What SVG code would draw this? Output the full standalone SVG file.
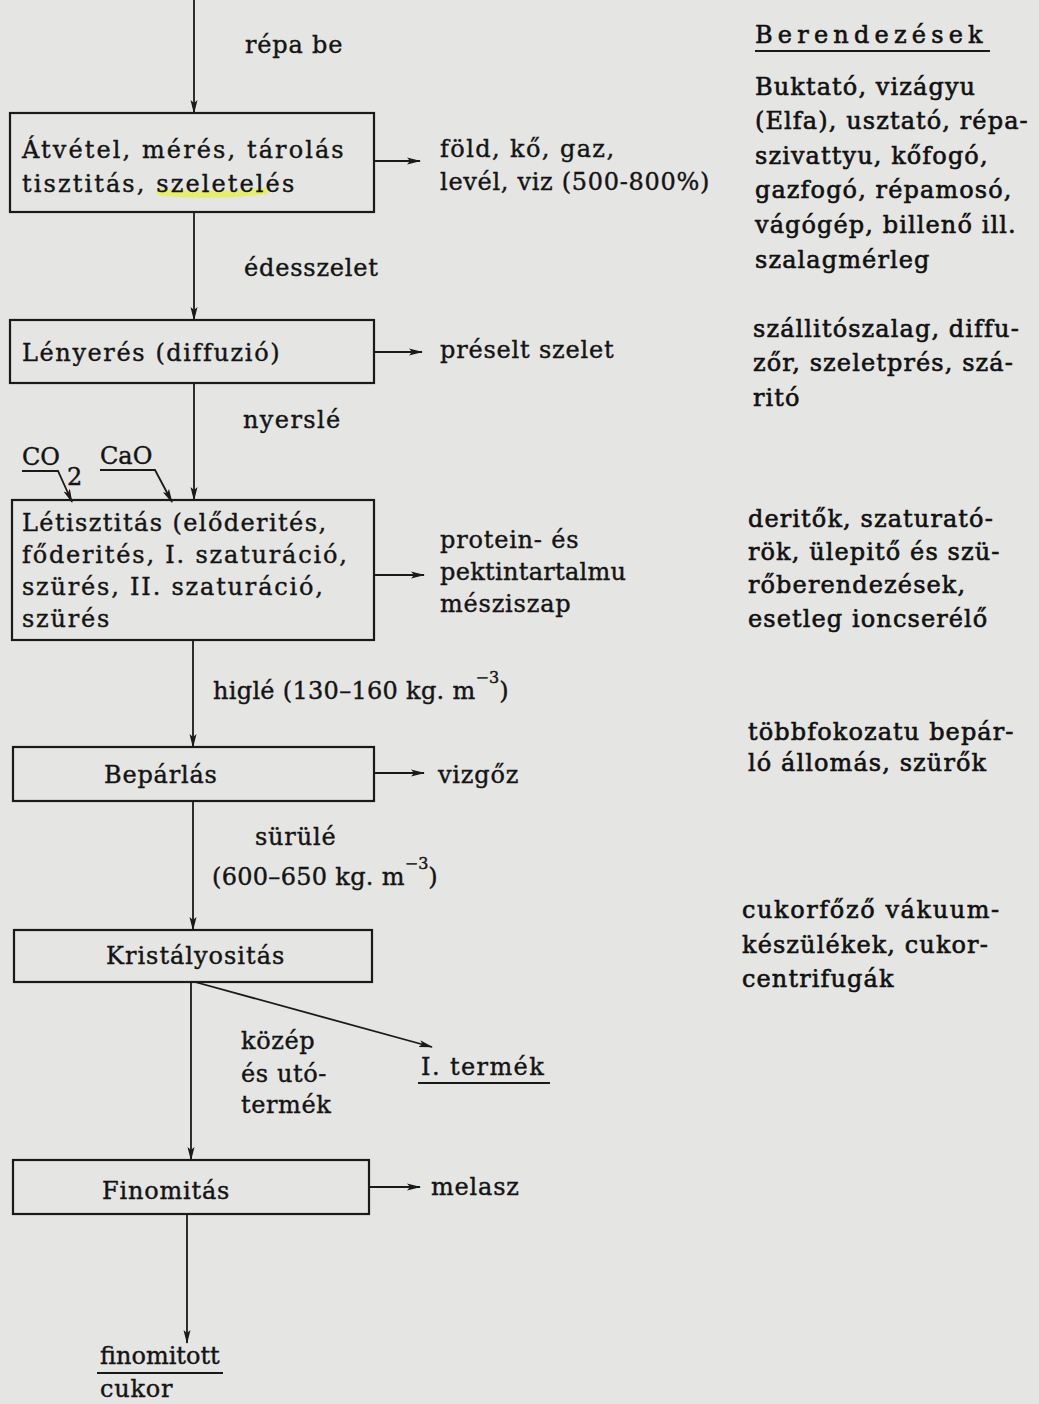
<svg xmlns="http://www.w3.org/2000/svg" width="1039" height="1404" viewBox="0 0 1039 1404">
<style>
.t { font-family: "DejaVu Serif", "Liberation Serif", serif; font-size: 24px; fill: #141414; stroke: #141414; stroke-width: 0.4px; letter-spacing: 1.4px; }
.r { font-family: "DejaVu Serif", "Liberation Serif", serif; font-size: 24px; fill: #111; stroke: #111; stroke-width: 0.6px; letter-spacing: 1.1px; }
.sup { font-size: 16px; letter-spacing: 0; }
.box { fill: none; stroke: #1a1a1a; stroke-width: 2.2; }
.ln { fill: none; stroke: #1a1a1a; stroke-width: 1.8; }
</style>
<defs>
<marker id="ah" markerWidth="14" markerHeight="8" refX="13" refY="4" orient="auto" markerUnits="userSpaceOnUse">
<path d="M0,0.5 L14,4 L0,7.5 L3,4 z" fill="#1a1a1a"/>
</marker>
</defs>
<rect x="0" y="0" width="1039" height="1404" fill="#e5e5e3"/>

<g id="connectors">
<line class="ln" x1="194" y1="0" x2="194" y2="113" marker-end="url(#ah)"/>
<line class="ln" x1="194" y1="212" x2="194" y2="320" marker-end="url(#ah)"/>
<line class="ln" x1="194" y1="383" x2="194" y2="500" marker-end="url(#ah)"/>
<line class="ln" x1="193" y1="640" x2="193" y2="747" marker-end="url(#ah)"/>
<line class="ln" x1="193" y1="801" x2="193" y2="930" marker-end="url(#ah)"/>
<line class="ln" x1="191" y1="982" x2="191" y2="1160" marker-end="url(#ah)"/>
<line class="ln" x1="187" y1="1214" x2="187" y2="1343" marker-end="url(#ah)"/>
<line class="ln" x1="374" y1="161" x2="420" y2="161" marker-end="url(#ah)"/>
<line class="ln" x1="374" y1="352" x2="422" y2="352" marker-end="url(#ah)"/>
<line class="ln" x1="374" y1="575" x2="424" y2="575" marker-end="url(#ah)"/>
<line class="ln" x1="374" y1="773" x2="424" y2="773" marker-end="url(#ah)"/>
<line class="ln" x1="369" y1="1187" x2="420" y2="1187" marker-end="url(#ah)"/>
<line class="ln" x1="195" y1="982" x2="432" y2="1047" marker-end="url(#ah)"/>
<path class="ln" d="M22,471 L58,471 L72,502" marker-end="url(#ah)"/>
<path class="ln" d="M100,470 L155,470 L172,502" marker-end="url(#ah)"/>
<text class="t" x="245" y="53" style="letter-spacing:0.8px">répa be</text>
<text class="t" x="244" y="276" style="letter-spacing:0.8px">édesszelet</text>
<text class="t" x="243" y="428">nyerslé</text>
<text class="t" x="213" y="699" style="letter-spacing:0.3px">higlé (130–160 kg. m<tspan class="sup" dy="-16">−3</tspan><tspan dy="16">)</tspan></text>
<text class="t" x="255" y="845" style="letter-spacing:0.8px">sürülé</text>
<text class="t" x="212" y="885" style="letter-spacing:0.3px">(600–650 kg. m<tspan class="sup" dy="-16">−3</tspan><tspan dy="16">)</tspan></text>
<text class="t" x="241" y="1049" style="letter-spacing:0.6px">közép</text>
<text class="t" x="241" y="1082" style="letter-spacing:0.6px">és utó-</text>
<text class="t" x="241" y="1113" style="letter-spacing:0.6px">termék</text>
</g>

<g id="n1">
<path d="M160,192 Q210,197 265,191" stroke="#e3f24a" stroke-width="7" fill="none" opacity="0.75" stroke-linecap="round"/>
<rect class="box" x="10" y="113" width="364" height="99"/>
<text class="t" x="22" y="158" style="letter-spacing:2.1px">Átvétel, mérés, tárolás</text>
<text class="t" x="22" y="192" style="letter-spacing:2.1px">tisztitás, szeletelés</text>
</g>
<g id="n2">
<rect class="box" x="10" y="320" width="364" height="63"/>
<text class="t" x="22" y="361" style="letter-spacing:1.6px">Lényerés (diffuzió)</text>
</g>
<g id="n3">
<rect class="box" x="12" y="500" width="362" height="140"/>
<text class="t" x="22" y="531">Létisztitás (előderités,</text>
<text class="t" x="22" y="563" style="letter-spacing:1.8px">főderités, I. szaturáció,</text>
<text class="t" x="22" y="595" style="letter-spacing:1.8px">szürés, II. szaturáció,</text>
<text class="t" x="22" y="627" style="letter-spacing:1.8px">szürés</text>
</g>
<g id="n4">
<rect class="box" x="13" y="747" width="361" height="54"/>
<text class="t" x="104" y="783" style="letter-spacing:0.8px">Bepárlás</text>
</g>
<g id="n5">
<rect class="box" x="14" y="930" width="358" height="52"/>
<text class="t" x="106" y="964" style="letter-spacing:1px">Kristályositás</text>
</g>
<g id="n6">
<rect class="box" x="13" y="1160" width="356" height="54"/>
<text class="t" x="102" y="1199" style="letter-spacing:0.8px">Finomitás</text>
</g>

<g id="out1">
<text class="t" x="440" y="157">föld, kő, gaz,</text>
<text class="t" x="440" y="190" style="letter-spacing:0.7px">levél, viz (500-800%)</text>
</g>
<g id="out2"><text class="t" x="440" y="358" style="letter-spacing:0.8px">préselt szelet</text></g>
<g id="out3">
<text class="t" x="440" y="548" style="letter-spacing:0.8px">protein- és</text>
<text class="t" x="440" y="580" style="letter-spacing:0.3px">pektintartalmu</text>
<text class="t" x="440" y="612" style="letter-spacing:0.8px">mésziszap</text>
</g>
<g id="out4"><text class="t" x="438" y="783" style="letter-spacing:0.8px">vizgőz</text></g>
<g id="out5">
<text class="t" x="421" y="1075">I. termék</text>
<line class="ln" x1="418" y1="1083" x2="550" y2="1083"/>
</g>
<g id="out6"><text class="t" x="431" y="1195" style="letter-spacing:0.8px">melasz</text></g>
<g id="out7">
<text class="t" x="100" y="1364" style="letter-spacing:0px">finomitott</text>
<line class="ln" x1="97" y1="1373" x2="223" y2="1373"/>
<text class="t" x="100" y="1397" style="letter-spacing:0.8px">cukor</text>
</g>
<g id="in1">
<text class="t" x="22" y="465" style="letter-spacing:0">CO</text>
<text class="t" x="67" y="485">2</text>
</g>
<g id="in2"><text class="t" x="100" y="464" style="letter-spacing:0">CaO</text></g>

<g id="equipment">
<text class="r" x="755" y="43" style="letter-spacing:5.2px">Berendezések</text>
<line class="ln" x1="755" y1="51" x2="990" y2="51"/>
<text class="r" x="755" y="95">Buktató, vizágyu</text>
<text class="r" x="755" y="129">(Elfa), usztató, répa-</text>
<text class="r" x="755" y="164">szivattyu, kőfogó,</text>
<text class="r" x="755" y="198">gazfogó, répamosó,</text>
<text class="r" x="755" y="233">vágógép, billenő ill.</text>
<text class="r" x="755" y="268">szalagmérleg</text>
<text class="r" x="753" y="337">szállitószalag, diffu-</text>
<text class="r" x="753" y="371">zőr, szeletprés, szá-</text>
<text class="r" x="753" y="406">ritó</text>
<text class="r" x="748" y="527">deritők, szaturató-</text>
<text class="r" x="748" y="560">rök, ülepitő és szü-</text>
<text class="r" x="748" y="593">rőberendezések,</text>
<text class="r" x="748" y="627">esetleg ioncserélő</text>
<text class="r" x="748" y="740">többfokozatu bepár-</text>
<text class="r" x="748" y="771">ló állomás, szürők</text>
<text class="r" x="742" y="918" style="letter-spacing:1.6px">cukorfőző vákuum-</text>
<text class="r" x="742" y="953">készülékek, cukor-</text>
<text class="r" x="742" y="987">centrifugák</text>
</g>
</svg>
